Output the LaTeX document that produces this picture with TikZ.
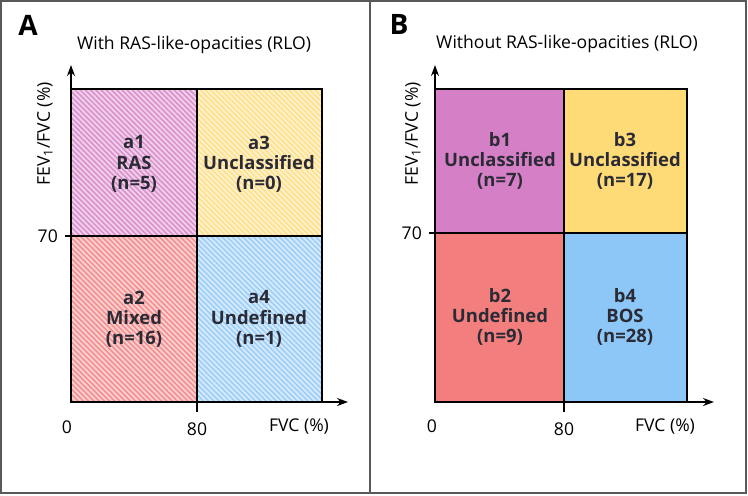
\documentclass[tikz,border=0pt]{standalone}
\usepackage{fontspec}
\setmainfont{Open Sans}
\usepackage{tikz}
\usetikzlibrary{arrows.meta,patterns.meta}
\definecolor{rasviolet}{HTML}{D57FC6}
\definecolor{unclyellow}{HTML}{FFDB78}
\definecolor{mixedred}{HTML}{F27E7E}
\definecolor{bosblue}{HTML}{8DC7F7}
\definecolor{celltextgray}{HTML}{2B2B35}

\tikzset{
  axisline/.style={line width=1.1pt,-{Stealth[length=2.2mm,width=1.6mm]}},
  cellline/.style={line width=0.9pt},
  celltext/.style={align=center,text=celltextgray,font=\bfseries\fontsize{10.5}{11.5}\selectfont},
  ticktext/.style={font=\fontsize{10}{12}\selectfont},
  hatch/.style={pattern={Lines[angle=-45,distance=2.1pt,line width=0.8pt]},pattern color=#1}
}

\begin{document}
\begin{tikzpicture}[x=0.02cm,y=-0.02cm]
    \useasboundingbox (0,0) rectangle (748,495);
    % frames
    \draw[line width=0.8pt,gray!70!black] (1,1) rectangle (746,493);
    \draw[line width=0.8pt,gray!70!black] (370,1) -- (370,493);

    % panel A, hatched
    \node[font=\bfseries\fontsize{16}{17}\selectfont] (labelA) at (28,25) {A};
    \node[font=\fontsize{10}{12}\selectfont] (titleA) at (194,45)
      {With RAS-like-opacities (RLO)};
    \foreach \xa/\ya/\xb/\yb/\col in {71/89/197/236/rasviolet,197/89/322/236/unclyellow,
                                      71/236/197/402/mixedred,197/236/322/402/bosblue} {
      \fill[\col!38] (\xa,\ya) rectangle (\xb,\yb);
      \fill[hatch=\col!90] (\xa,\ya) rectangle (\xb,\yb);
      \draw[cellline] (\xa,\ya) rectangle (\xb,\yb);
    }
    \node[celltext] (a1) at (134,164) {a1\\RAS\\(n=5)};
    \node[celltext] (a3) at (259,164) {a3\\Unclassified\\(n=0)};
    \node[celltext] (a2) at (134,319) {a2\\Mixed\\(n=16)};
    \node[celltext] (a4) at (259,319) {a4\\Undefined\\(n=1)};
    \coordinate (originA) at (71,402);
    \coordinate (ytopA) at (71,65);
    \coordinate (xendA) at (348,402);
    \draw[axisline] (originA) -- (ytopA);
    \draw[axisline] (originA) -- (xendA);
    \draw[line width=1.1pt] (65,236) -- (71,236);
    \draw[line width=1.1pt] (197,402) -- (197,412);
    \node[ticktext,anchor=east] (seventyA) at (64,236) {70};
    \node[ticktext] (zeroA) at (67,427) {0};
    \node[ticktext] (eightyA) at (197,429) {80};
    \node[ticktext] (fvcA) at (299,427) {FVC (\%)};
    \node[ticktext,rotate=90] (ratioA) at (45,134) {FEV\textsubscript{1}/FVC (\%)};

    % panel B, solid
    \node[font=\bfseries\fontsize{16}{17}\selectfont] (labelB) at (399,24) {B};
    \node[font=\fontsize{10}{12}\selectfont] (titleB) at (567,44)
      {Without RAS-like-opacities (RLO)};
    \foreach \xa/\ya/\xb/\yb/\col in {435/89/564/233/rasviolet,564/89/687/233/unclyellow,
                                      435/233/564/402/mixedred,564/233/687/402/bosblue} {
      \fill[\col] (\xa,\ya) rectangle (\xb,\yb);
      \draw[cellline] (\xa,\ya) rectangle (\xb,\yb);
    }
    \node[celltext] (b1) at (500,161) {b1\\Unclassified\\(n=7)};
    \node[celltext] (b3) at (625,161) {b3\\Unclassified\\(n=17)};
    \node[celltext] (b2) at (500,317) {b2\\Undefined\\(n=9)};
    \node[celltext] (b4) at (625,317) {b4\\BOS\\(n=28)};
    \coordinate (originB) at (435,402);
    \coordinate (ytopB) at (435,65);
    \coordinate (xendB) at (714,402);
    \draw[axisline] (originB) -- (ytopB);
    \draw[axisline] (originB) -- (xendB);
    \draw[line width=1.1pt] (429,233) -- (435,233);
    \draw[line width=1.1pt] (564,402) -- (564,412);
    \node[ticktext,anchor=east] (seventyB) at (428,233) {70};
    \node[ticktext] (zeroB) at (432,426) {0};
    \node[ticktext] (eightyB) at (564,429) {80};
    \node[ticktext] (fvcB) at (665,427) {FVC (\%)};
    \node[ticktext,rotate=90] (ratioB) at (413,134) {FEV\textsubscript{1}/FVC (\%)};
  \end{tikzpicture}
\end{document}
